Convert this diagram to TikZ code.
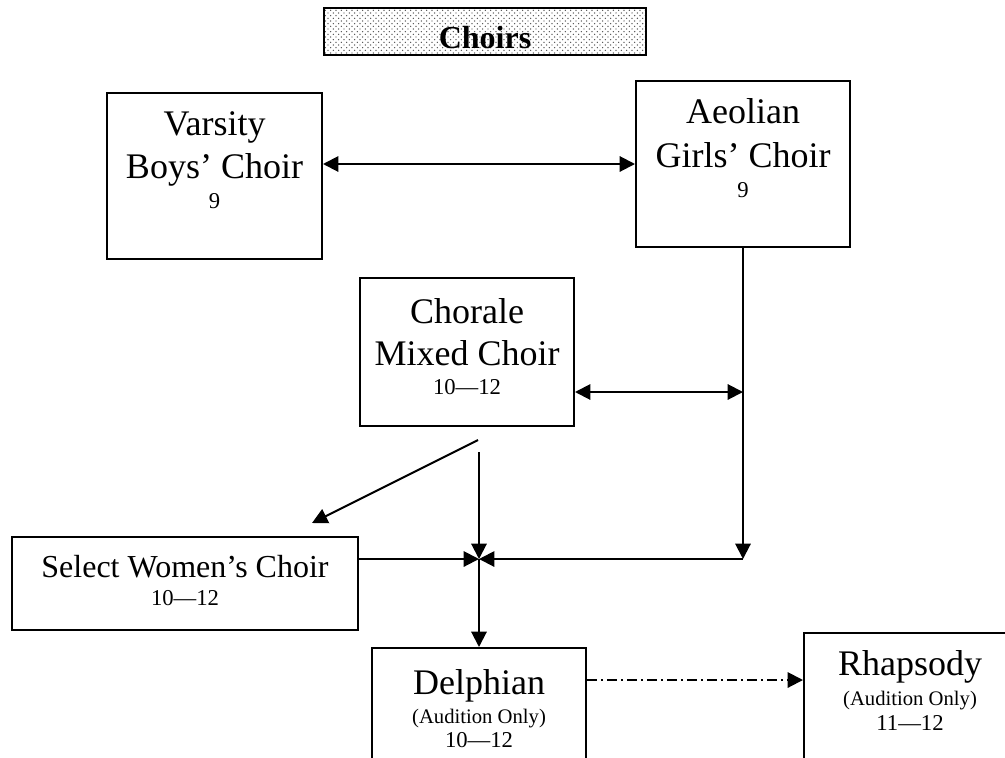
\documentclass[tikz,border=0pt]{standalone}
\usepackage{fontspec}
\setmainfont{Liberation Serif}
\usetikzlibrary{arrows.meta,patterns}
\pgfdeclarepatternformonly{titledots}{\pgfqpoint{-1pt}{-1pt}}{\pgfqpoint{5pt}{5pt}}{\pgfqpoint{4pt}{4pt}}{%
  \pgfpathcircle{\pgfqpoint{0pt}{0pt}}{0.55pt}%
  \pgfpathcircle{\pgfqpoint{2pt}{2pt}}{0.55pt}%
  \pgfusepath{fill}%
}
\begin{document}
\begin{tikzpicture}[x=0.75pt,y=-0.75pt,
  box/.style={draw,line width=1.5pt,inner sep=0pt,rectangle},
  ln/.style={anchor=base,inner sep=0pt},
  bigt/.style={ln,font=\fontsize{27}{30}\selectfont},
  midt/.style={ln,font=\fontsize{24}{28}\selectfont},
  numt/.style={ln,font=\fontsize{17}{20}\selectfont},
  audt/.style={ln,font=\fontsize{15.5}{18}\selectfont},
  arr/.style={line width=1.5pt,-{Triangle[length=11.5pt,width=11.5pt]}},
  darr/.style={line width=1.5pt,{Triangle[length=11.5pt,width=11.5pt]}-{Triangle[length=11.5pt,width=11.5pt]}},
  dd/.style={line width=1.5pt,dash pattern=on 7.5pt off 3pt on 1.5pt off 3pt,-{Triangle[length=11.5pt,width=11.5pt]}}
]
\useasboundingbox (0,0) rectangle (1005,757);
\clip (0,0) rectangle (1005,757);

% title
\node[box,pattern=titledots,pattern color=black!70,minimum width=241.5pt,minimum height=35.25pt] (title) at (485,31.5) {};
\node[ln,font=\fontsize{24}{28}\selectfont\bfseries] (titleT) at (485,48) {Choirs};

% boxes
\node[box,minimum width=161.25pt,minimum height=124.5pt] (varsity) at (214.5,176) {};
\node[bigt] (varsity1) at (214.5,135) {Varsity};
\node[bigt] (varsity2) at (214.5,178) {Boys’ Choir};
\node[numt] (varsity3) at (214.5,208) {9};

\node[box,minimum width=160.5pt,minimum height=124.5pt] (aeolian) at (743,164) {};
\node[bigt] (aeolian1) at (743,123) {Aeolian};
\node[bigt] (aeolian2) at (743,167) {Girls’ Choir};
\node[numt] (aeolian3) at (743,197) {9};

\node[box,minimum width=160.5pt,minimum height=111pt] (chorale) at (467,352) {};
\node[bigt] (chorale1) at (467,323) {Chorale};
\node[bigt] (chorale2) at (467,365) {Mixed Choir};
\node[numt] (chorale3) at (467,394) {10—12};

\node[box,minimum width=259.5pt,minimum height=69.75pt] (select) at (185,583.5) {};
\node[midt] (select1) at (185,577) {Select Women’s Choir};
\node[numt] (select2) at (185,605) {10—12};

\node[box,minimum width=160.5pt,minimum height=114pt] (delphian) at (479,724) {};
\node[bigt] (delphian1) at (479,694) {Delphian};
\node[audt] (delphian2) at (479,723) {(Audition Only)};
\node[numt] (delphian3) at (479,747) {10—12};

\node[box,minimum width=184.5pt,minimum height=127.5pt] (rhapsody) at (927,718) {};
\node[bigt] (rhapsody1) at (910,675) {Rhapsody};
\node[audt] (rhapsody2) at (910,705) {(Audition Only)};
\node[numt] (rhapsody3) at (910,730) {11—12};

% junction points
\coordinate (jn) at (479,559);
\coordinate (ar) at (743,559);
\coordinate (ac) at (743,392);
\coordinate (cs) at (478,440);
\coordinate (cv) at (479,452);
\coordinate (st) at (312,523);

% connectors
\draw[darr] (varsity.east |- aeolian.west) -- (aeolian.west);
\draw[arr] (aeolian.south) -- (ar);
\draw[darr] (chorale.east |- ac) -- (ac);
\draw[arr] (cs) -- (st);
\draw[arr] (cv) -- (jn);
\draw[arr] (select.east |- jn) -- (jn);
\draw[arr] (ar) -- (jn);
\draw[arr] (jn) -- (delphian.north);
\draw[dd] (delphian.east |- 0,680) -- (rhapsody.west |- 0,680);
\end{tikzpicture}
\end{document}
